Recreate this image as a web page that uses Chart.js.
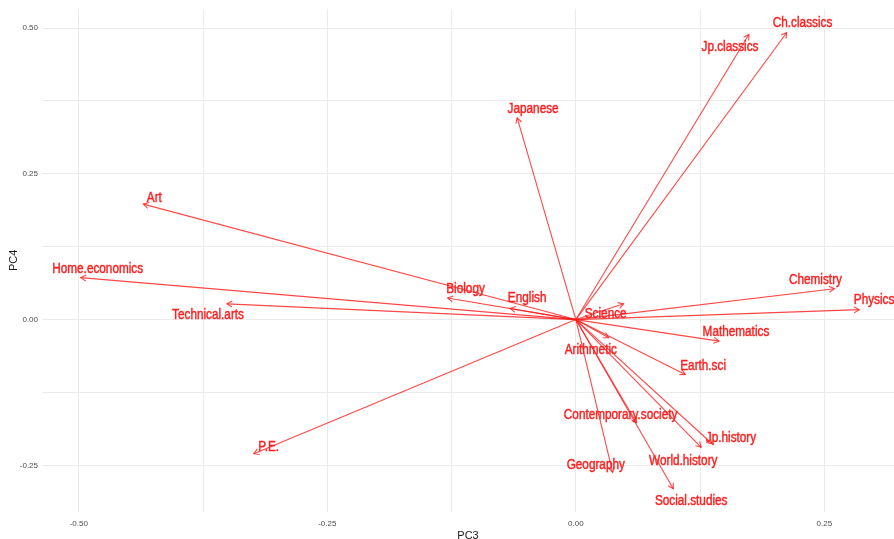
<!DOCTYPE html>
<html>
<head>
<meta charset="utf-8">
<script src="https://cdn.jsdelivr.net/npm/chart.js@4/dist/chart.umd.min.js"></script>
<style>
  html, body { margin: 0; padding: 0; background: #ffffff; }
  #wrap { width: 894px; height: 539px; }
</style>
</head>
<body>
<div id="wrap"><canvas id="biplot" width="894" height="539"></canvas></div>
<script>
// Loadings of each subject on PC3 (x) and PC4 (y)
const subjects = [
  "Ch.classics", "Jp.classics", "Japanese", "Art", "Home.economics",
  "Technical.arts", "Biology", "English", "P.E.", "Science",
  "Chemistry", "Physics", "Mathematics", "Arithmetic", "Earth.sci",
  "Contemporary.society", "Jp.history", "World.history", "Geography", "Social.studies"
];
const pc3 = [
  0.212, 0.174, -0.059, -0.435, -0.498,
  -0.351, -0.129, -0.066, -0.324, 0.048,
  0.260, 0.285, 0.144, 0.033, 0.110,
  0.061, 0.137, 0.126, 0.037, 0.098
];
const pc4 = [
  0.492, 0.489, 0.346, 0.198, 0.072,
  0.027, 0.037, 0.019, -0.230, 0.027,
  0.053, 0.017, -0.037, -0.031, -0.094,
  -0.177, -0.213, -0.219, -0.262, -0.290
];
// Where each subject name sits, in PC3 / PC4 units
const labelPc3 = [
  0.228, 0.155, -0.043, -0.424, -0.481,
  -0.370, -0.111, -0.049, -0.309, 0.030,
  0.241, 0.300, 0.161, 0.015, 0.128,
  0.045, 0.156, 0.108, 0.020, 0.116
];
const labelPc4 = [
  0.508, 0.468, 0.361, 0.208, 0.087,
  0.007, 0.053, 0.036, -0.218, 0.009,
  0.068, 0.034, -0.022, -0.053, -0.080,
  -0.164, -0.203, -0.242, -0.249, -0.312
];
// Axis breaks (labelled every 0.25, plain grid every 0.125)
const xTicks = [-0.5, -0.375, -0.25, -0.125, 0, 0.125, 0.25];
const yTicks = [-0.25, -0.125, 0, 0.125, 0.25, 0.375, 0.5];

const ARROW_COLOR = "rgba(255, 25, 25, 0.8)";
const LABEL_COLOR = "#ff1f1f";

const isMajor = v => Math.abs(v * 4 - Math.round(v * 4)) < 1e-9;
const fmt = v => isMajor(v) ? (Math.abs(v) < 1e-9 ? "0.00" : v.toFixed(2)) : "";

const datasets = subjects.map((name, i) => ({
  label: name,
  data: [{ x: 0, y: 0 }, { x: pc3[i], y: pc4[i] }],
  showLine: true,
  borderColor: ARROW_COLOR,
  borderWidth: 1.1,
  pointRadius: 0,
  pointHoverRadius: 0,
  fill: false
}));

// Open arrowheads at each loading tip plus the subject names
const arrowsAndLabels = {
  id: "arrowsAndLabels",
  afterDatasetsDraw(chart) {
    const { ctx, scales: { x, y }, chartArea } = chart;
    ctx.save();
    ctx.beginPath();
    ctx.rect(chartArea.left, chartArea.top, chartArea.right - chartArea.left, chartArea.bottom - chartArea.top);
    ctx.clip();
    ctx.strokeStyle = ARROW_COLOR;
    ctx.lineWidth = 1.1;
    const x0 = x.getPixelForValue(0), y0 = y.getPixelForValue(0);
    subjects.forEach((name, i) => {
      const tx = x.getPixelForValue(pc3[i]);
      const ty = y.getPixelForValue(pc4[i]);
      const ang = Math.atan2(ty - y0, tx - x0);
      const len = 6, spread = Math.PI / 6;
      ctx.beginPath();
      ctx.moveTo(tx - len * Math.cos(ang - spread), ty - len * Math.sin(ang - spread));
      ctx.lineTo(tx, ty);
      ctx.lineTo(tx - len * Math.cos(ang + spread), ty - len * Math.sin(ang + spread));
      ctx.stroke();
    });
    ctx.restore();

    ctx.save();
    ctx.fillStyle = LABEL_COLOR;
    ctx.strokeStyle = LABEL_COLOR;
    ctx.lineWidth = 0.45;
    ctx.font = "14px 'Liberation Sans', Arial, sans-serif";
    ctx.textAlign = "center";
    ctx.textBaseline = "middle";
    subjects.forEach((name, i) => {
      const lx = x.getPixelForValue(labelPc3[i]);
      const ly = y.getPixelForValue(labelPc4[i]);
      ctx.save();
      ctx.translate(lx, ly);
      ctx.scale(0.84, 1);
      ctx.fillText(name, 0, 0);
      ctx.strokeText(name, 0, 0);
      ctx.restore();
    });
    ctx.restore();
  }
};

new Chart(document.getElementById("biplot"), {
  type: "scatter",
  data: { datasets },
  plugins: [arrowsAndLabels],
  options: {
    responsive: false,
    animation: false,
    devicePixelRatio: 1,
    layout: { padding: 0 },
    plugins: { legend: { display: false }, tooltip: { enabled: false } },
    scales: {
      x: {
        type: "linear",
        min: -0.537,
        max: 0.32,
        afterBuildTicks: s => { s.ticks = xTicks.map(v => ({ value: v })); },
        afterFit: s => { s.height = 27; },
        grid: { color: "#ebebeb", lineWidth: 1, drawTicks: false },
        border: { display: false },
        ticks: {
          autoSkip: false, maxRotation: 0, padding: 7,
          color: "#4d4d4d",
          font: { family: "'Liberation Sans', Arial, sans-serif", size: 8 },
          callback: v => fmt(v)
        },
        title: {
          display: true, text: "PC3", color: "#1a1a1a",
          font: { family: "'Liberation Sans', Arial, sans-serif", size: 11, lineHeight: 1 },
          padding: { top: 0, bottom: -2 }
        }
      },
      y: {
        type: "linear",
        min: -0.330,
        max: 0.533,
        afterBuildTicks: s => { s.ticks = yTicks.map(v => ({ value: v })); },
        afterFit: s => { s.width = 42; },
        grid: { color: "#ebebeb", lineWidth: 1, drawTicks: false },
        border: { display: false },
        ticks: {
          autoSkip: false, padding: 4,
          color: "#4d4d4d",
          font: { family: "'Liberation Sans', Arial, sans-serif", size: 8 },
          callback: v => fmt(v)
        },
        title: {
          display: true, text: "PC4", color: "#1a1a1a",
          font: { family: "'Liberation Sans', Arial, sans-serif", size: 11, lineHeight: 1 },
          padding: { top: 8, bottom: 0 }
        }
      }
    }
  }
});
</script>
</body>
</html>
